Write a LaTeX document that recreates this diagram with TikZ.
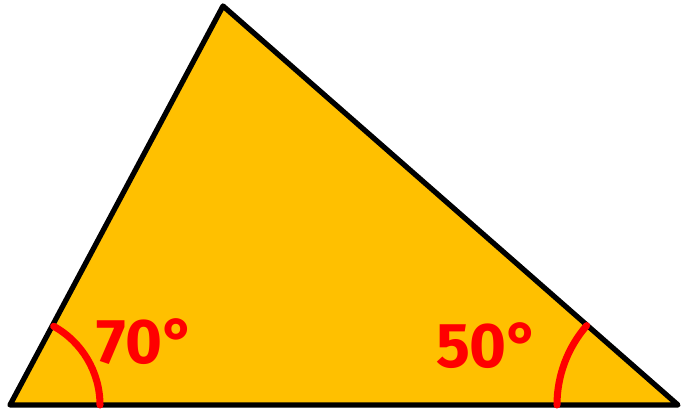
\documentclass[tikz,border=0pt]{standalone}
\usepackage{fontspec}
\setmainfont{Fira Sans}
\usepackage{tikz}
\definecolor{trifill}{RGB}{255, 192, 0}
\definecolor{markred}{RGB}{255, 0, 0}

\begin{document}
\begin{tikzpicture}[
    x=0.02cm, y=-0.02cm,
    triangle/.style={draw=black, fill=trifill, line width=3pt, line join=round},
    anglearc/.style={draw=markred, line width=4pt, line cap=round},
    anglelabel/.style={text=markred, font=\fontsize{36}{36}\selectfont\bfseries, inner sep=0pt}
]
    \useasboundingbox (0,0) rectangle (681,411);
    \coordinate (A) at (10,405);
    \coordinate (B) at (678,405);
    \coordinate (C) at (223,6);

    \draw[triangle] (A) -- (C) -- (B) -- cycle;

    % angle marks
    \draw[anglearc] ([shift={(0:90)}]A) arc[start angle=0, end angle=-61, radius=90];
    \draw[anglearc] ([shift={(180:121)}]B) arc[start angle=180, end angle=221, radius=121];

    \node[anglelabel] (lab70) at (146,342) {70°};
    \node[anglelabel] (lab50) at (488,346) {50°};
\end{tikzpicture}
\end{document}
